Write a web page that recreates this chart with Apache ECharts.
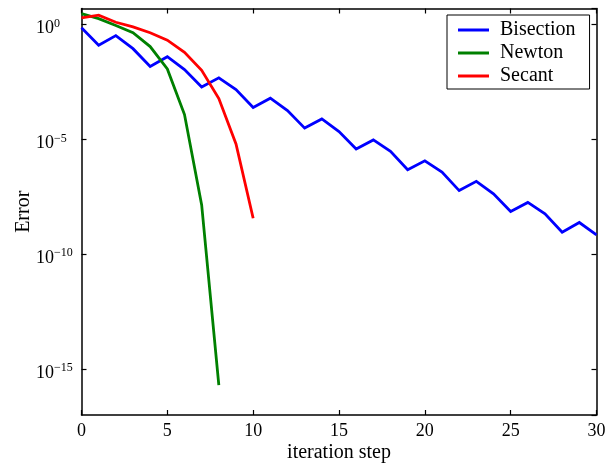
<!DOCTYPE html>
<html>
<head>
<meta charset="utf-8">
<script src="https://cdn.jsdelivr.net/npm/echarts@6/dist/echarts.min.js"></script>
<style>
  html, body { margin: 0; padding: 0; background: #fff; }
  #chart { width: 606px; height: 465px; }
</style>
</head>
<body>
<div id="chart"></div>
<script>
// Error of each root-finding method per iteration step
const bisectionSteps = [0,1,2,3,4,5,6,7,8,9,10,11,12,13,14,15,16,17,18,19,20,21,22,23,24,25,26,27,28,29,30];
const bisectionError = [0.724, 0.126, 0.331, 0.0891, 0.0151, 0.0398, 0.011, 1.9e-3, 4.8e-3, 1.48e-3,
  2.45e-4, 6.2e-4, 1.8e-4, 3.1e-5, 7.8e-5, 2.2e-5, 3.8e-6, 9.5e-6, 3.0e-6, 4.8e-7,
  1.17e-6, 3.8e-7, 5.9e-8, 1.5e-7, 4.3e-8, 7.2e-9, 1.8e-8, 5.8e-9, 9.1e-10, 2.4e-9, 6.9e-10];

const newtonSteps = [0,1,2,3,4,5,6,7,8];
const newtonError = [3.0, 1.8, 0.91, 0.44, 0.11, 0.0117, 1.2e-4, 1.4e-8, 2.0e-16];

const secantSteps = [0,1,2,3,4,5,6,7,8,9,10];
const secantError = [1.95, 2.57, 1.26, 0.79, 0.44, 0.21, 0.062, 0.0102, 6.0e-4, 6.3e-6, 3.7e-9];

const seriesNames = ['Bisection', 'Newton', 'Secant'];
const seriesColors = ['#0000ff', '#008000', '#ff0000'];

// y axis works in decades (log10 of the error)
const yMin = -17;
const yMax = Math.log10(5);
const decadeLabels = [0, -5, -10, -15];

const toPoints = (xs, ys) => xs.map((x, i) => [x, Math.log10(ys[i])]);

const FONT = '"Liberation Serif", "DejaVu Serif", serif';

const chart = echarts.init(document.getElementById('chart'), null, { renderer: 'canvas' });

const axisLine = { show: true, onZero: false, lineStyle: { color: '#000', width: 1.5 } };
const innerTick = { show: true, inside: true, length: 5, lineStyle: { color: '#000', width: 1.2 } };

chart.setOption({
  animation: false,
  backgroundColor: '#fff',
  grid: { left: 81.5, right: 9.5, top: 8.5, bottom: 50, containLabel: false, outerBoundsMode: 'none' },
  legend: {
    data: seriesNames,
    left: 447, top: 15,
    orient: 'vertical',
    selectedMode: false,
    icon: 'rect',
    itemWidth: 31, itemHeight: 3,
    itemGap: 3,
    padding: [5, 14, 3, 11],
    borderColor: '#000', borderWidth: 1,
    backgroundColor: '#fff',
    textStyle: { fontFamily: FONT, fontSize: 20, color: '#000', padding: [0, 0, 0, 6] }
  },
  xAxis: [
    {
      type: 'value', min: 0, max: 30, interval: 5,
      position: 'bottom',
      name: 'iteration step', nameLocation: 'middle', nameGap: 28, nameMoveOverlap: false,
      nameTextStyle: { fontFamily: FONT, fontSize: 20, color: '#000' },
      axisLine, axisTick: innerTick,
      axisLabel: { fontFamily: FONT, fontSize: 18, color: '#000', margin: 7 },
      splitLine: { show: false }
    },
    {
      type: 'value', min: 0, max: 30, interval: 5,
      position: 'top',
      axisLine, axisTick: innerTick,
      axisLabel: { show: false },
      splitLine: { show: false }
    }
  ],
  yAxis: [
    {
      type: 'value', min: yMin, max: yMax, splitNumber: 4,
      position: 'left',
      name: 'Error', nameLocation: 'middle', nameGap: 48, nameMoveOverlap: false,
      nameTextStyle: { fontFamily: FONT, fontSize: 20, color: '#000' },
      axisLine, axisTick: innerTick,
      axisLabel: {
        align: 'left', margin: 45.5,
        padding: [8, 0, 0, 0],
        showMinLabel: false, showMaxLabel: false,
        formatter: v => decadeLabels.includes(Math.round(v * 1000) / 1000) ? '{b|10}{e|' + (v === 0 ? '0' : '\u2212' + Math.abs(v)) + '}' : '',
        rich: {
          b: { fontFamily: FONT, fontSize: 18, color: '#000', lineHeight: 22, verticalAlign: 'middle' },
          e: { fontFamily: FONT, fontSize: 12, color: '#000', lineHeight: 13, verticalAlign: 'top', padding: [0, 0, 20, 0] }
        }
      },
      splitLine: { show: false }
    },
    {
      type: 'value', min: yMin, max: yMax, splitNumber: 4,
      position: 'right',
      axisLine, axisTick: innerTick,
      axisLabel: { show: false },
      splitLine: { show: false }
    }
  ],
  series: [
    { name: seriesNames[0], data: toPoints(bisectionSteps, bisectionError) },
    { name: seriesNames[1], data: toPoints(newtonSteps, newtonError) },
    { name: seriesNames[2], data: toPoints(secantSteps, secantError) }
  ].map((s, i) => ({
    ...s,
    type: 'line',
    xAxisIndex: 0, yAxisIndex: 0,
    symbol: 'none', showSymbol: false,
    color: seriesColors[i],
    lineStyle: { color: seriesColors[i], width: 2.8, join: 'miter' },
    z: 3
  }))
});
</script>
</body>
</html>
